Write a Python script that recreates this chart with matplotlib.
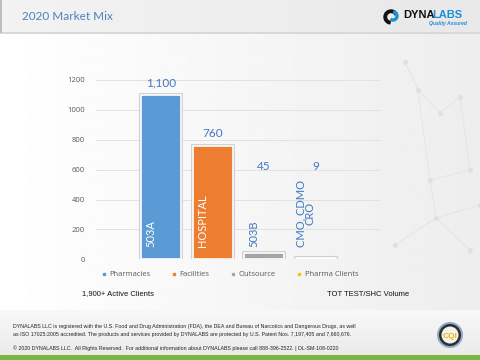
import matplotlib.pyplot as plt
import matplotlib.patheffects as pe
import numpy as np
from matplotlib.lines import Line2D
from matplotlib.patches import Rectangle, Circle, Wedge

# chart data
categories = ["503A", "HOSPITAL", "503B", "CMO, CDMO\nCRO"]
values = [1100, 760, 45, 9]
value_labels = ["1,100", "760", "45", "9"]
legend_names = ["Pharmacies", "Facilities", "Outsource", "Pharma Clients"]
colors = ["#5B9BD5", "#ED7D31", "#A5A5A5", "#FFC000"]
inner_text_colors = ["white", "white", "#3F78C0", "#3F78C0"]
yticks = [0, 200, 400, 600, 800, 1000, 1200]

footer_lines = [
    "DYNALABS LLC is registered with the U.S. Food and Drug Administration (FDA), the DEA and Bureau of Narcotics and Dangerous Drugs, as well",
    "as ISO 17025:2005 accredited. The products and services provided by DYNALABS are protected by U.S. Patent Nos. 7,197,405 and 7,660,676.",
    "\u00a9 2020 DYNALABS LLC.  All Rights Reserved.  For additional information about DYNALABS please call 888-396-2522. | DL-SM-108-0220",
]

W, H = 480, 360
fig = plt.figure(figsize=(4.8, 3.6), dpi=100)

# slide background (pixel coordinates, y down)
bg = fig.add_axes([0, 0, 1, 1])
bg.set_xlim(0, W)
bg.set_ylim(H, 0)
bg.axis("off")
grad = np.tile(np.linspace(1.0, 0.93, 256), (16, 1))
bg.imshow(grad, cmap="gray", vmin=0, vmax=1, extent=[0, W, 310, 33], aspect="auto")

# faint network decoration on the right
net_pts = np.array([[405, 62], [418, 90], [440, 113], [460, 97], [430, 180],
                    [470, 170], [436, 218], [480, 205], [395, 245], [470, 250]])
net_links = [(0, 1), (1, 2), (2, 3), (1, 4), (4, 5), (4, 6), (6, 7), (6, 8), (6, 9), (3, 5)]
for a, b in net_links:
    bg.plot(net_pts[[a, b], 0], net_pts[[a, b], 1], color="#e3e3e3", lw=0.6)
bg.scatter(net_pts[:, 0], net_pts[:, 1], s=7, color="#e0e0e0", zorder=2)

# header
hdr = np.tile(np.linspace(0.95, 0.91, 256), (16, 1))
bg.imshow(hdr, cmap="gray", vmin=0, vmax=1, extent=[0, W, 33, 0], aspect="auto")
bg.add_patch(Rectangle((0, 32), W, 2, color="#d8d8d8", lw=0))
bg.add_patch(Rectangle((0, 0), 1.5, 33, color="#bdbdbd", lw=0))
bg.text(22, 17, "2020 Market Mix", fontsize=8.5, color="#4F81BD",
        family="Lato", va="center", ha="left")

# logo
bg.add_patch(Wedge((391, 17), 7, 100, 330, width=2.5, color="#111111"))
bg.add_patch(Wedge((393, 16), 5, 280, 120, width=2, color="#1E8FD5"))
bg.text(403, 15, "DYNA", fontsize=8, weight="bold", color="#111111",
        family="Liberation Sans", va="center", ha="left")
bg.text(432, 15, "LABS", fontsize=8, weight="bold", color="#1E8FD5",
        family="Liberation Sans", va="center", ha="left")
bg.text(467, 24, "Quality Assured", fontsize=3.6, style="italic", weight="bold",
        color="#1E8FD5", family="Liberation Sans", va="center", ha="right")

# footer
ftr = np.tile(np.linspace(0.97, 0.92, 16)[:, None], (1, 16))
bg.imshow(ftr, cmap="gray", vmin=0, vmax=1, extent=[0, W, 355, 310], aspect="auto")
bg.add_patch(Rectangle((0, 355), W, 5, color="#7AB642", lw=0))
for i, line in enumerate(footer_lines):
    yy = [326.5, 334.3, 347.7][i]
    bg.text(13, yy, line, fontsize=3.8, color="#222222", family="Liberation Sans",
            va="center", ha="left")
bg.add_patch(Circle((450, 335), 13, color="#8fa9c4", lw=0))
bg.add_patch(Circle((450, 335), 11, color="#2d2d2d", lw=0))
bg.add_patch(Circle((450, 335), 8.5, color="#f2f2f2", lw=0))
bg.text(450, 336, "CQI", fontsize=6, weight="bold", color="#F5B400",
        family="Liberation Sans", ha="center", va="center")

# bottom captions
bg.text(82, 294, "1,900+ Active Clients", fontsize=5.5, color="#111111",
        family="Liberation Sans", va="center", ha="left")
bg.text(327, 294, "TOT TEST/SHC Volume", fontsize=5.5, color="#111111",
        family="Liberation Sans", va="center", ha="left")

# bar chart
ax = fig.add_axes([96 / W, 1 - 259.3 / H, 285 / W, 179.3 / H])
ax.set_facecolor("none")
x = np.arange(len(categories))
bars = ax.bar(x, values, width=0.78, color=colors, edgecolor="white", linewidth=1.2, zorder=3)
for b in bars:
    b.set_path_effects([pe.withStroke(linewidth=2.6, foreground="#c8c8c8")])

ax.set_xlim(-1.27, len(categories) - 1 + 1.27)
ax.set_ylim(0, 1200)
ax.set_yticks(yticks)
ax.set_yticklabels([str(t) for t in yticks], fontsize=5.5, color="#595959", family="Open Sans")
ax.tick_params(axis="y", length=0, pad=8)
ax.set_xticks([])
ax.grid(axis="y", color="#e2e2e2", linewidth=0.7, zorder=0)
for s in ax.spines.values():
    s.set_visible(False)

for xi, v, lab in zip(x, values, value_labels):
    ax.text(xi, max(v + 80, 620), lab, fontsize=8.5, color="#3F78C0", family="Lato",
            ha="center", va="center")

for xi, cat, tc in zip(x, categories, inner_text_colors):
    ax.text(xi - 0.2, 80, cat, rotation=90, fontsize=8, color=tc, family="Lato",
            ha="center", va="bottom", linespacing=0.85, zorder=4)

handles = [Line2D([], [], marker="s", linestyle="none", markersize=1.8, color=c) for c in colors]
fig.legend(handles, legend_names, loc="center", bbox_to_anchor=(230 / W, 1 - 274.7 / H),
           ncol=4, frameon=False, fontsize=5.5, handlelength=0.6, handletextpad=0.4,
           columnspacing=2.8, labelcolor="#595959", prop={"family": "Open Sans", "size": 5.5})

fig.savefig("out.png", dpi=100)
